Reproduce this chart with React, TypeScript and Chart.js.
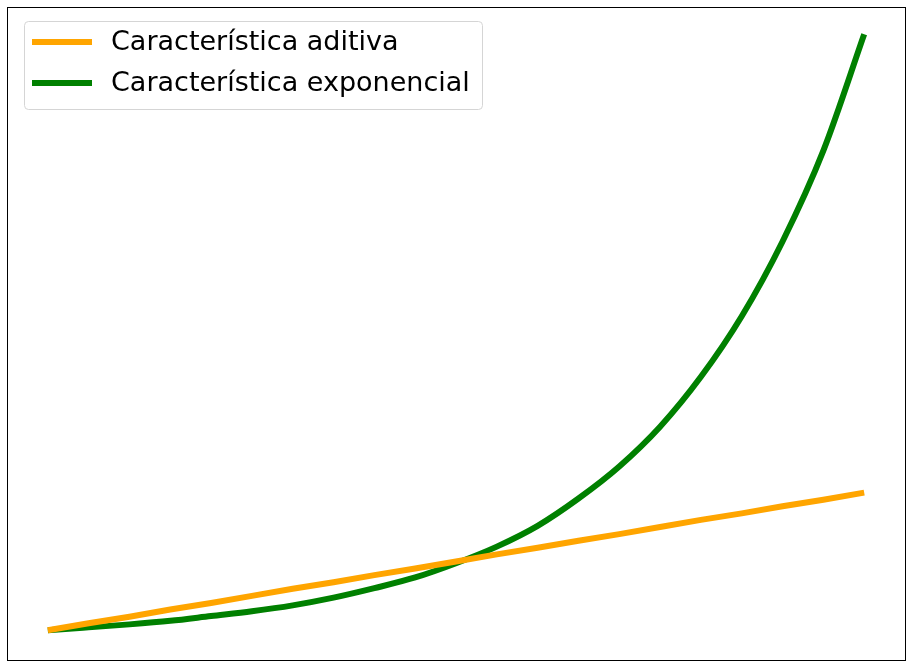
import Chart from "chart.js/auto";
import { useEffect, useRef } from "react";

const steps = [0, 1, 2, 3, 4, 5, 6, 7, 8, 9, 10, 11, 12, 13, 14, 15, 16, 17, 18, 19, 20];
const aditiva = [0, 1.2, 2.3, 3.5, 4.6, 5.8, 7.0, 8.1, 9.3, 10.4, 11.6, 12.8, 13.9, 15.1, 16.2, 17.4, 18.6, 19.7, 20.9, 22.0, 23.2];
const exponencial = [0, 0.5, 1.0, 1.6, 2.4, 3.2, 4.2, 5.5, 7.1, 8.9, 11.3, 14.1, 17.6, 22.2, 27.6, 34.3, 42.7, 52.9, 65.5, 80.8, 100.4];
const labels = ["Característica aditiva", "Característica exponencial"];
const colors = ["#ffa500", "#008000"];

const framePlugin = {
  id: "frame",
  afterDraw(chart: any) {
    const { ctx, chartArea } = chart;
    ctx.save();
    ctx.strokeStyle = "#000";
    ctx.lineWidth = 1;
    ctx.strokeRect(chartArea.left + 0.5, chartArea.top + 0.5, chartArea.right - chartArea.left, chartArea.bottom - chartArea.top);

    // legend box, top left like matplotlib
    const x = 24, y = 21, w = 458, h = 88, r = 4;
    ctx.beginPath();
    ctx.roundRect(x + 0.5, y + 0.5, w, h, r);
    ctx.fillStyle = "rgba(255,255,255,0.8)";
    ctx.fill();
    ctx.strokeStyle = "#d5d5d5";
    ctx.stroke();

    ctx.font = "27px 'DejaVu Sans'";
    ctx.textBaseline = "middle";
    chart.data.datasets.forEach((ds: any, i: number) => {
      const cy = 42 + i * 41;
      ctx.beginPath();
      ctx.moveTo(32, cy);
      ctx.lineTo(92, cy);
      ctx.strokeStyle = ds.borderColor;
      ctx.lineWidth = 6;
      ctx.stroke();
      ctx.fillStyle = "#000";
      ctx.fillText(ds.label, 111, cy + 1);
    });
    ctx.restore();
  },
};

export default function App() {
  const canvasRef = useRef<HTMLCanvasElement | null>(null);

  useEffect(() => {
    document.body.style.margin = "0";
    if (!canvasRef.current) {
      return;
    }
    const chart = new Chart(canvasRef.current, {
      type: "line",
      data: {
        datasets: [
          {
            label: labels[0],
            data: steps.map((s, i) => ({ x: s, y: aditiva[i] })),
            borderColor: colors[0],
            borderWidth: 6,
            pointRadius: 0,
            borderCapStyle: "butt",
          },
          {
            label: labels[1],
            data: steps.map((s, i) => ({ x: s, y: exponencial[i] })),
            borderColor: colors[1],
            borderWidth: 6,
            pointRadius: 0,
            cubicInterpolationMode: "monotone",
            borderCapStyle: "butt",
          },
        ],
      },
      options: {
        animation: false,
        responsive: false,
        layout: { padding: { left: 7, top: 7, right: 5, bottom: 10 } },
        scales: {
          x: { type: "linear", min: -1, max: 21, display: false },
          y: { min: -5, max: 105, display: false },
        },
        plugins: {
          legend: { display: false },
          tooltip: { enabled: false },
        },
      },
      plugins: [framePlugin],
    });

    return () => {
      chart.destroy();
    };
  }, []);

  return (
    <div style={{ width: 910, height: 670 }}>
      <canvas ref={canvasRef} width={910} height={670}></canvas>
    </div>
  );
}
